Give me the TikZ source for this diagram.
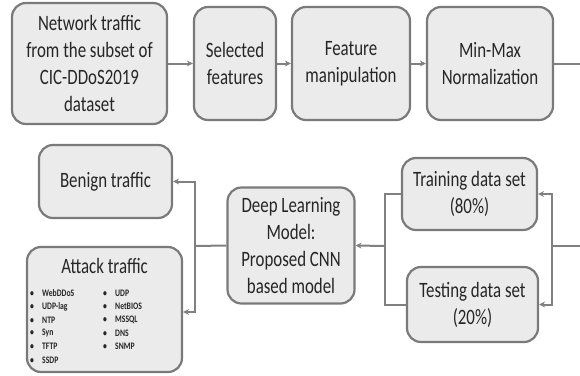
\documentclass[tikz,border=0pt]{standalone}
\usepackage{fontspec}
\setmainfont{Carlito}[FakeStretch=0.77]
\usetikzlibrary{arrows.meta}

\definecolor{boxfill}{HTML}{EBEBEB}
\definecolor{boxline}{HTML}{7A7A7A}
\definecolor{wire}{HTML}{808080}
\definecolor{ink}{HTML}{262626}

\tikzset{
    block/.style={draw=boxline, fill=boxfill, line width=2.2bp, rounded corners=14bp,
        align=center, text=ink, inner sep=2bp, font=\fontsize{22}{27}\selectfont},
    wireline/.style={draw=wire, line width=2bp},
    flow/.style={wireline, -{Stealth[length=6bp,width=6bp]}},
    listitem/.style={anchor=west, inner sep=0pt, text=ink, font=\fontsize{10}{12}\selectfont\bfseries}
}

\begin{document}
\begin{tikzpicture}[x=1bp, y=-1bp]
    \useasboundingbox (0,0) rectangle (580,375);

    % top row
    \node[block, minimum width=155bp, minimum height=121bp] (net) at (89.5,63.5)
        {Network traffic\\from the subset of\\CIC-DDoS2019\\dataset};
    \node[block, minimum width=82bp, minimum height=113bp] (sel) at (235,63.5)
        {Selected\\features};
    \node[block, minimum width=118bp, minimum height=113bp] (feat) at (351,63.5)
        {Feature\\manipulation};
    \node[block, minimum width=126bp, minimum height=113bp] (minmax) at (490,63.5)
        {Min-Max\\Normalization};

    % split
    \node[block, minimum width=135bp, minimum height=72bp] (train) at (469.5,194)
        {Training data set\\(80\%)};
    \node[block, minimum width=131bp, minimum height=75bp] (test) at (472.5,304.5)
        {Testing data set\\(20\%)};

    % model
    \node[block, minimum width=127bp, minimum height=116bp] (dl) at (291,245.5)
        {Deep Learning\\Model:\\Proposed CNN\\based model};

    % outputs
    \node[block, minimum width=133bp, minimum height=73bp] (benign) at (105.5,181.5)
        {Benign traffic};
    \node[block, minimum width=155bp, minimum height=125bp] (attack) at (104.5,309.5) {};
    \node[text=ink, font=\fontsize{22}{27}\selectfont] (atitle) at (104.5,266) {Attack traffic};

    \foreach \lbl [count=\i] in {WebDDoS, UDP-lag, NTP, Syn, TFTP, SSDP}
        \node[listitem] (la\i) at (30,{280+13.3*\i}) {\makebox[12bp][l]{\textbullet}\lbl};
    \foreach \lbl [count=\i] in {UDP, NetBIOS, MSSQL, DNS, SNMP}
        \node[listitem] (lb\i) at (103,{280+13.3*\i}) {\makebox[12bp][l]{\textbullet}\lbl};

    % connectors
    \coordinate (outR) at (580,63.5);
    \coordinate (inR) at (580,246);
    \coordinate (forkR) at (552,246);
    \coordinate (forkM) at (385,246);
    \coordinate (forkL) at (195,246);

    \draw[flow] (net) -- (sel);
    \draw[flow] (sel) -- (feat);
    \draw[flow] (feat) -- (minmax);
    \draw[wireline] (minmax) -- (outR);

    \draw[wireline] (inR) -- (forkR);
    \draw[flow] (forkR) |- (train.east);
    \draw[flow] (forkR) |- (test.east);

    \draw[wireline] (train.west) -| (forkM);
    \draw[wireline] (test.west) -| (forkM);
    \draw[flow] (forkM) -- (dl.east);

    \draw[wireline] (dl.west) -- (forkL);
    \draw[flow] (forkL) |- (benign.east);
    \draw[flow] (forkL) |- ([yshift=-2.5bp]attack.east);
\end{tikzpicture}
\end{document}
